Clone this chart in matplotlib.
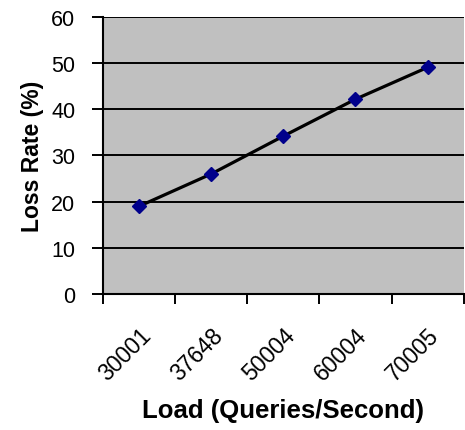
import matplotlib.pyplot as plt
import matplotlib.transforms as mtransforms
import numpy as np

plt.rcParams['font.family'] = ['Liberation Sans', 'DejaVu Sans']

loads = ['30001', '37648', '50004', '60004', '70005']
loss_rate = [19, 26, 34.2, 42.2, 49.1]
y_ticks = [0, 10, 20, 30, 40, 50, 60]

fig = plt.figure(figsize=(4.65, 4.31), dpi=100)
ax = fig.add_axes([0.222, 0.316, 0.775, 0.642])
ax.set_facecolor('#c0c0c0')

x = np.arange(len(loads))
ax.plot(x, loss_rate, color='black', lw=2.3, zorder=3)
ax.plot(x, loss_rate, ls='none', marker='D', ms=7.5, color='#00008b', zorder=4)

ax.set_xlim(-0.5, len(loads) - 0.5)
ax.set_ylim(0, 60)
ax.set_yticks(y_ticks)
for y in y_ticks[1:]:
    ax.axhline(y, color='black', lw=1.4, zorder=1)

# ticks sit between categories, labels sit at the category centres
ax.set_xticks(np.arange(-0.5, len(loads)), minor=False)
ax.set_xticklabels([])
ax.set_xticks(x, minor=True)
ax.set_xticklabels(loads, minor=True, rotation=45, ha='right', rotation_mode='anchor', fontsize=16.5)
shift = mtransforms.ScaledTranslation(-6 / 72, 0, fig.dpi_scale_trans)
for lbl in ax.get_xticklabels(minor=True):
    lbl.set_transform(lbl.get_transform() + shift)
ax.tick_params(axis='x', which='minor', length=0, pad=21)
ax.tick_params(axis='x', which='major', length=7, width=1.4, direction='out')
ax.tick_params(axis='y', length=8, width=1.4, direction='out', labelsize=15.5, pad=12)

for s in ['top', 'right']:
    ax.spines[s].set_visible(False)
for s in ['left', 'bottom']:
    ax.spines[s].set_linewidth(1.5)

ax.set_ylabel('Loss Rate (%)', fontsize=16.5, fontweight='bold', labelpad=5)
ax.set_xlabel('Load (Queries/Second)', fontsize=18.5, fontweight='bold', labelpad=10)

fig.savefig('out.png', dpi=100)
